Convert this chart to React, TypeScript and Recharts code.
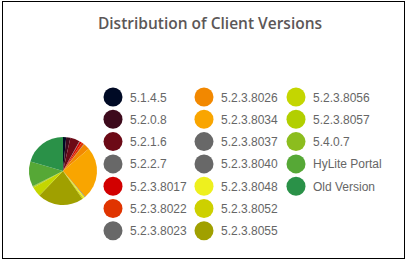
import React from "react";
import { PieChart, Pie, Cell, Legend } from "recharts";

const versions = [
  "5.1.4.5", "5.2.0.8", "5.2.1.6", "5.2.2.7", "5.2.3.8017", "5.2.3.8022", "5.2.3.8023",
  "5.2.3.8026", "5.2.3.8034", "5.2.3.8037", "5.2.3.8040", "5.2.3.8048", "5.2.3.8052", "5.2.3.8055",
  "5.2.3.8056", "5.2.3.8057", "5.4.0.7", "HyLite Portal", "Old Version",
];
const shares = [1.5, 2, 4.5, 0.3, 1, 1.2, 0.2, 3, 25, 0.2, 0.2, 0.8, 0.5, 22, 4.5, 0.5, 0.3, 12, 20.5];
const colors = [
  "#000a25", "#3d0a1c", "#6c0a16", "#686868", "#d20000", "#e03400", "#686868",
  "#f28800", "#f9a500", "#686868", "#686868", "#eef01e", "#cdd000", "#a0a000",
  "#c4d600", "#b2cf00", "#8cbd1e", "#56a836", "#2a9148",
];

const data = versions.map((name, i) => ({ name, value: shares[i], color: colors[i] }));

const colX = [113, 204, 296];
const rowY0 = 97;
const rowStep = 22.3;

const renderLegend = (props: any) => {
  const payload = props.payload || [];
  return (
    <svg width={408} height={263} style={{ position: "absolute", left: 0, top: 0 }}>
      {payload.map((p: any, i: number) => {
        const col = Math.floor(i / 7);
        const row = i % 7;
        const x = colX[col];
        const y = rowY0 + row * rowStep;
        return (
          <g key={p.value}>
            <circle cx={x} cy={y} r={9.5} fill={p.color} />
            <text x={x + 17} y={y + 4.5} fontSize={12} fill="#666" fontFamily="'Liberation Sans', Arial, sans-serif">
              {p.value}
            </text>
          </g>
        );
      })}
    </svg>
  );
};

export default function App() {
  return (
    <div style={{ position: "absolute", left: 0, top: 0, width: 408, height: 263, background: "#fff" }}>
      <div
        style={{
          position: "absolute",
          left: 2,
          top: 1,
          width: 401,
          height: 256,
          border: "1px solid #000",
        }}
      />
      <div
        style={{
          position: "absolute",
          left: 0,
          top: 12,
          width: 420,
          textAlign: "center",
          fontFamily: "'Open Sans', sans-serif",
          fontWeight: 600,
          fontSize: 15.5,
          color: "#5c5757",
        }}
      >
        Distribution of Client Versions
      </div>
      <div style={{ position: "absolute", left: 0, top: 0 }}>
        <PieChart width={408} height={263} margin={{ top: 0, right: 0, bottom: 0, left: 0 }}>
          <Pie
            data={data}
            dataKey="value"
            nameKey="name"
            cx={63}
            cy={171}
            outerRadius={34}
            startAngle={90}
            endAngle={-270}
            stroke="none"
            isAnimationActive={false}
          >
            {data.map((d) => (
              <Cell key={d.name} fill={d.color} />
            ))}
          </Pie>
          <Legend content={renderLegend} wrapperStyle={{ position: "absolute", left: 0, top: 0, width: 408, height: 263 }} />
        </PieChart>
      </div>
    </div>
  );
}
